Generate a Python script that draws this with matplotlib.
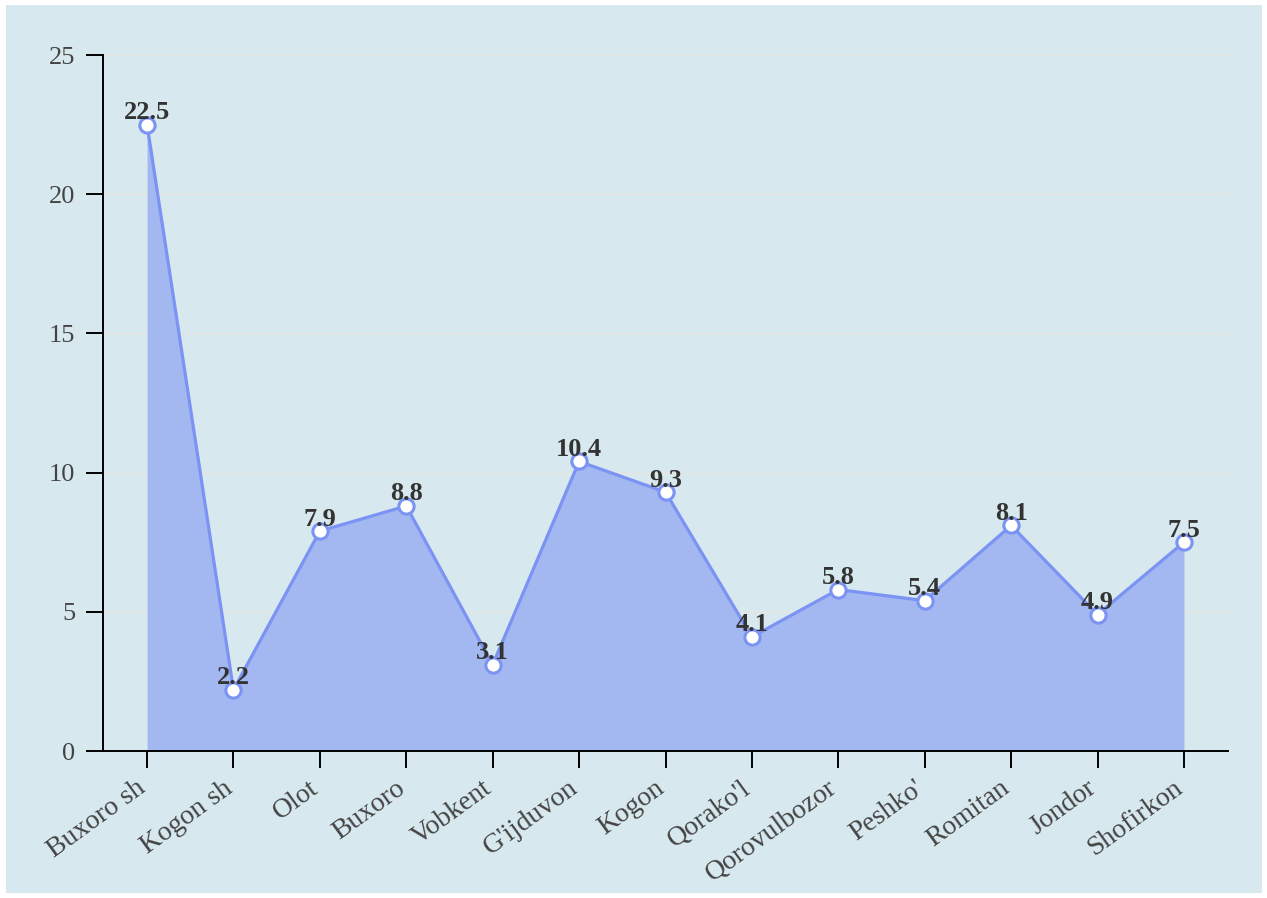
import matplotlib
matplotlib.use("Agg")
import matplotlib.pyplot as plt
from matplotlib.patches import Rectangle
from matplotlib.transforms import ScaledTranslation

categories = ["Buxoro sh", "Kogon sh", "Olot", "Buxoro", "Vobkent", "G'ijduvon", "Kogon",
              "Qorako'l", "Qorovulbozor", "Peshko'", "Romitan", "Jondor", "Shofirkon"]
values = [22.5, 2.2, 7.9, 8.8, 3.1, 10.4, 9.3, 4.1, 5.8, 5.4, 8.1, 4.9, 7.5]
y_ticks = [0, 5, 10, 15, 20, 25]

W, H = 1267, 898
fig = plt.figure(figsize=(W / 100, H / 100), dpi=100)
fig.patch.set_facecolor("white")
fig.patches.append(Rectangle((6 / W, 5 / H), (1262 - 6) / W, (893 - 5) / H,
                             transform=fig.transFigure, facecolor="#d7e9ef",
                             edgecolor="none", zorder=-10))

ax = fig.add_axes([103 / W, 1 - 751 / H, (1228 - 103) / W, (751 - 55) / H])
ax.set_facecolor("none")
ax.set_zorder(5)

x = list(range(len(categories)))
ax.fill_between(x, values, 0, color="#a3b8f1", zorder=2, linewidth=0)
ax.plot(x, values, color="#7b93f2", linewidth=2.3, zorder=3)
ax.plot(x, values, linestyle="none", marker="o", markersize=11,
        markerfacecolor="white", markeredgecolor="#7b93f2", markeredgewidth=2.2, zorder=4)

serif = ["Liberation Serif", "DejaVu Serif"]
for xi, v in zip(x, values):
    ax.annotate(f"{v}", (xi, v), xytext=(0, 4), textcoords="offset points",
                ha="center", va="baseline", fontsize=19, fontweight="bold",
                family=serif, color="#333333", zorder=5)

ax.set_xlim(-0.51, 12.51)
ax.set_ylim(0, 25)
ax.set_yticks(y_ticks)
ax.set_xticks(x)
ax.set_xticklabels([])
label_tr = ax.get_xaxis_transform() + ScaledTranslation(0, -40 / 100, fig.dpi_scale_trans)
for xi, name in zip(x, categories):
    ax.text(xi, 0, name, transform=label_tr, rotation=36, ha="right", va="baseline",
            rotation_mode="anchor", family=serif, fontsize=20, color="#444444",
            clip_on=False)
for lab in ax.get_yticklabels():
    lab.set_family(serif)
    lab.set_fontsize(19)
    lab.set_color("#444444")

ax.grid(axis="y", color="#e8e4e0", linewidth=1, zorder=1)
ax.set_axisbelow(True)
for s in ["top", "right"]:
    ax.spines[s].set_visible(False)
for s in ["left", "bottom"]:
    ax.spines[s].set_color("black")
    ax.spines[s].set_linewidth(1.4)
ax.tick_params(axis="both", length=12, width=1.4, color="black", direction="out")
ax.tick_params(axis="y", pad=8)

fig.savefig("out.png", dpi=100)
